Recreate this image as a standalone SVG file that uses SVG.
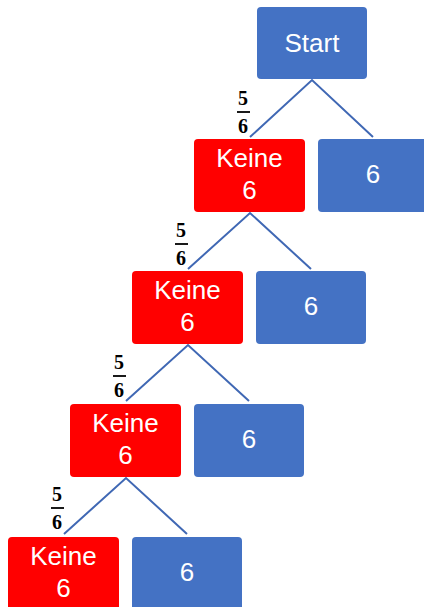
<svg xmlns="http://www.w3.org/2000/svg" width="424" height="607" viewBox="0 0 424 607">
<style>
.blue{fill:#4472C4}
.red{fill:#FF0000}
.t{font-family:"Liberation Sans",Arial,sans-serif;font-size:26px;fill:#fff;text-anchor:middle}
.f{font-family:"Liberation Serif","Times New Roman",serif;font-weight:bold;font-size:20px;fill:#000;text-anchor:middle}
.c{stroke:#4068B4;stroke-width:2;fill:none}
.bar{stroke:#000;stroke-width:1.8}
</style>
<rect width="424" height="607" fill="#fff"/>
<g id="connectors">
<path class="c" d="M250,137 L312,80 L373,137"/>
<path class="c" d="M188,269 L250,213 L311,269"/>
<path class="c" d="M126,401 L188,345 L249,401"/>
<path class="c" d="M64,534 L126,478 L187,534"/>
</g>
<g id="start"><rect class="blue" x="257" y="7" width="110" height="72" rx="4"/><text class="t" x="312" y="52">Start</text></g>
<g id="keine1"><rect class="red" x="194" y="139" width="111" height="73" rx="4"/><text class="t" x="249.5" y="167">Keine</text><text class="t" x="249.5" y="199">6</text></g>
<g id="six1"><rect class="blue" x="318" y="139" width="110" height="73" rx="4"/><text class="t" x="373" y="183">6</text></g>
<g id="keine2"><rect class="red" x="132" y="271" width="111" height="73" rx="4"/><text class="t" x="187.5" y="299">Keine</text><text class="t" x="187.5" y="331">6</text></g>
<g id="six2"><rect class="blue" x="256" y="271" width="110" height="73" rx="4"/><text class="t" x="311" y="315">6</text></g>
<g id="keine3"><rect class="red" x="70" y="404" width="111" height="73" rx="4"/><text class="t" x="125.5" y="432">Keine</text><text class="t" x="125.5" y="464">6</text></g>
<g id="six3"><rect class="blue" x="194" y="404" width="110" height="73" rx="4"/><text class="t" x="249" y="448">6</text></g>
<g id="keine4"><rect class="red" x="8" y="537" width="111" height="73" rx="4"/><text class="t" x="63.5" y="565">Keine</text><text class="t" x="63.5" y="597">6</text></g>
<g id="six4"><rect class="blue" x="132" y="537" width="110" height="73" rx="4"/><text class="t" x="187" y="581">6</text></g>
<g id="frac1"><text class="f" x="243" y="105">5</text><line class="bar" x1="237" y1="112" x2="250" y2="112"/><text class="f" x="243" y="133">6</text></g>
<g id="frac2"><text class="f" x="181" y="237">5</text><line class="bar" x1="175" y1="244" x2="188" y2="244"/><text class="f" x="181" y="265">6</text></g>
<g id="frac3"><text class="f" x="119" y="369">5</text><line class="bar" x1="113" y1="376" x2="126" y2="376"/><text class="f" x="119" y="397">6</text></g>
<g id="frac4"><text class="f" x="57" y="501">5</text><line class="bar" x1="51" y1="508" x2="64" y2="508"/><text class="f" x="57" y="529">6</text></g>
</svg>
